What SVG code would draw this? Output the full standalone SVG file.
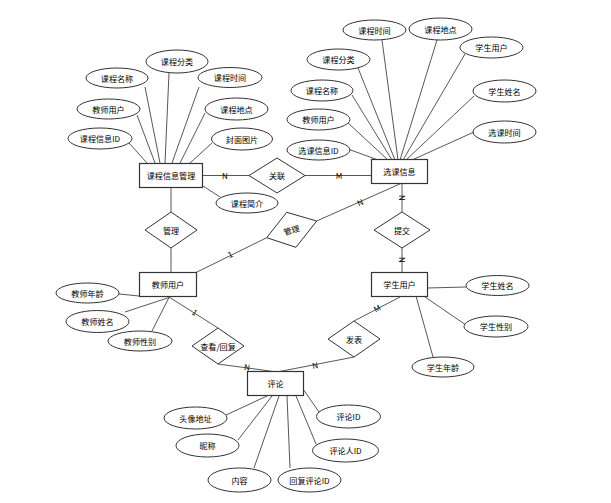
<svg xmlns="http://www.w3.org/2000/svg" width="611" height="503" viewBox="0 0 611 503">
<style>
.bg{fill:#ffffff}
.ent{fill:#ffffff;stroke:#333333;stroke-width:1.2}
.rel{fill:#ffffff;stroke:#333333;stroke-width:1}
.att{fill:#ffffff;stroke:#333333;stroke-width:1}
.ln{stroke:#444444;stroke-width:0.9;fill:none}
text{font-family:"Noto Sans CJK SC","Noto Sans",sans-serif;font-size:8.1px;fill:#000000;text-anchor:middle;dominant-baseline:central}
.lb{font-size:8.1px}
</style>
<rect class="bg" x="0" y="0" width="611" height="503"/>
<g id="connectors">
<line class="ln" x1="203" y1="175.5" x2="249" y2="175.5"/>
<line class="ln" x1="305" y1="175.5" x2="371" y2="175.5"/>
<line class="ln" x1="171" y1="187" x2="171" y2="212"/>
<line class="ln" x1="171" y1="248" x2="171" y2="272"/>
<line class="ln" x1="195" y1="273" x2="266.7" y2="237.7"/>
<line class="ln" x1="316.7" y1="221" x2="402" y2="183"/>
<line class="ln" x1="402" y1="183" x2="402" y2="212"/>
<line class="ln" x1="402" y1="248" x2="402" y2="272"/>
<line class="ln" x1="169" y1="297" x2="218" y2="328"/>
<line class="ln" x1="218" y1="364" x2="277" y2="372"/>
<line class="ln" x1="400" y1="297" x2="354" y2="321"/>
<line class="ln" x1="354" y1="357" x2="277" y2="372"/>
<line class="ln" x1="129" y1="143" x2="147" y2="163"/>
<line class="ln" x1="137" y1="115" x2="155" y2="163"/>
<line class="ln" x1="145" y1="87" x2="160" y2="163"/>
<line class="ln" x1="169" y1="73" x2="165" y2="163"/>
<line class="ln" x1="199" y1="87" x2="172" y2="163"/>
<line class="ln" x1="205" y1="113" x2="180" y2="163"/>
<line class="ln" x1="212" y1="143" x2="190" y2="163"/>
<line class="ln" x1="203" y1="186" x2="220" y2="197"/>
<line class="ln" x1="348" y1="149" x2="378" y2="160"/>
<line class="ln" x1="347" y1="122" x2="388" y2="160"/>
<line class="ln" x1="352" y1="95" x2="392" y2="160"/>
<line class="ln" x1="358" y1="68" x2="395" y2="160"/>
<line class="ln" x1="382" y1="40" x2="398" y2="160"/>
<line class="ln" x1="437" y1="40" x2="400" y2="160"/>
<line class="ln" x1="465" y1="54" x2="403" y2="160"/>
<line class="ln" x1="474" y1="96" x2="406" y2="160"/>
<line class="ln" x1="474" y1="132" x2="412" y2="160"/>
<line class="ln" x1="119" y1="294" x2="139" y2="296"/>
<line class="ln" x1="125" y1="312" x2="169" y2="297.5"/>
<line class="ln" x1="152" y1="331" x2="169" y2="297.5"/>
<line class="ln" x1="427" y1="288" x2="466" y2="287"/>
<line class="ln" x1="425" y1="297" x2="466" y2="325"/>
<line class="ln" x1="416" y1="296" x2="433" y2="357"/>
<line class="ln" x1="267" y1="396" x2="226" y2="415"/>
<line class="ln" x1="272" y1="396" x2="238" y2="440"/>
<line class="ln" x1="279" y1="396" x2="254" y2="468"/>
<line class="ln" x1="287" y1="396" x2="290" y2="468"/>
<line class="ln" x1="296" y1="396" x2="316" y2="444"/>
<line class="ln" x1="303" y1="389" x2="319" y2="412"/>
<text class="lb" x="225" y="175">N</text>
<text class="lb" x="339" y="175">M</text>
<text class="lb" transform="translate(230,254) rotate(-26)" x="0" y="0">1</text>
<text class="lb" transform="translate(360,202) rotate(-24)" x="0" y="0">N</text>
<text class="lb" transform="translate(402,198) rotate(90)" x="0" y="0">N</text>
<text class="lb" transform="translate(402,260) rotate(90)" x="0" y="0">N</text>
<text class="lb" transform="translate(195,312) rotate(32)" x="0" y="0">1</text>
<text class="lb" transform="translate(247,367) rotate(7)" x="0" y="0">N</text>
<text class="lb" transform="translate(377,308) rotate(-28)" x="0" y="0">M</text>
<text class="lb" transform="translate(315,365) rotate(-10)" x="0" y="0">N</text>
</g>
<g id="kcxxgl"><rect class="ent" x="139.5" y="163.5" width="63" height="24"/><text x="171" y="175.5">课程信息管理</text></g>
<g id="xkxx"><rect class="ent" x="371.5" y="159.5" width="56" height="24"/><text x="399.5" y="171.5">选课信息</text></g>
<g id="jsyh"><rect class="ent" x="139.5" y="272.5" width="57" height="24"/><text x="168" y="284.5">教师用户</text></g>
<g id="xsyh"><rect class="ent" x="371.5" y="272.5" width="56" height="24"/><text x="399.5" y="284.5">学生用户</text></g>
<g id="pl"><rect class="ent" x="247.5" y="371.5" width="56" height="24"/><text x="275.5" y="383.5">评论</text></g>
<g id="r_guanlian"><polygon class="rel" points="249,175.5 277,158 305,175.5 277,193"/><text x="277" y="175.5">关联</text></g>
<g id="r_guanli1"><polygon class="rel" points="145,230 171,212 197,230 171,248"/><text x="171" y="230">管理</text></g>
<g id="r_guanli2"><polygon class="rel" points="266.7,237.7 286.7,212.3 316.7,221 296,247.3"/><text transform="translate(291.5,229.8) rotate(-17)" x="0" y="0">管理</text></g>
<g id="r_tijiao"><polygon class="rel" points="374,230 402,212 430,230 402,248"/><text x="402" y="230">提交</text></g>
<g id="r_chakan"><polygon class="rel" points="192,346 218,328 244,346 218,364"/><text x="218" y="346">查看/回复</text></g>
<g id="r_fabiao"><polygon class="rel" points="328,339 354,321 380,339 354,357"/><text x="354" y="339">发表</text></g>
<g id="a_kc_fl"><ellipse class="att" cx="177" cy="61.5" rx="31" ry="11.5"/><text x="177" y="61.5">课程分类</text></g>
<g id="a_kc_mc"><ellipse class="att" cx="117" cy="78" rx="31" ry="10"/><text x="117" y="78">课程名称</text></g>
<g id="a_kc_sj"><ellipse class="att" cx="230" cy="77.5" rx="32" ry="10"/><text x="230" y="77.5">课程时间</text></g>
<g id="a_kc_js"><ellipse class="att" cx="108.5" cy="109" rx="31.5" ry="10"/><text x="108.5" y="109">教师用户</text></g>
<g id="a_kc_dd"><ellipse class="att" cx="236.5" cy="109" rx="31.5" ry="11"/><text x="236.5" y="109">课程地点</text></g>
<g id="a_kc_id"><ellipse class="att" cx="100" cy="138.5" rx="32" ry="10.5"/><text x="100" y="138.5">课程信息ID</text></g>
<g id="a_kc_fm"><ellipse class="att" cx="242" cy="139" rx="30.5" ry="11"/><text x="242" y="139">封面图片</text></g>
<g id="a_kc_jj"><ellipse class="att" cx="247" cy="203" rx="31" ry="10"/><text x="247" y="203">课程简介</text></g>
<g id="a_xk_sj"><ellipse class="att" cx="374.5" cy="30" rx="31.5" ry="10"/><text x="374.5" y="30">课程时间</text></g>
<g id="a_xk_dd"><ellipse class="att" cx="440.5" cy="29" rx="31.5" ry="11"/><text x="440.5" y="29">课程地点</text></g>
<g id="a_xk_xs"><ellipse class="att" cx="491.5" cy="47.5" rx="31.5" ry="10.5"/><text x="491.5" y="47.5">学生用户</text></g>
<g id="a_xk_fl"><ellipse class="att" cx="338.5" cy="59.5" rx="31.5" ry="10.5"/><text x="338.5" y="59.5">课程分类</text></g>
<g id="a_xk_xm"><ellipse class="att" cx="504.5" cy="91" rx="31.5" ry="11"/><text x="504.5" y="91">学生姓名</text></g>
<g id="a_xk_mc"><ellipse class="att" cx="322" cy="90.5" rx="31" ry="10.5"/><text x="322" y="90.5">课程名称</text></g>
<g id="a_xk_js"><ellipse class="att" cx="318.5" cy="119.5" rx="31.5" ry="10.5"/><text x="318.5" y="119.5">教师用户</text></g>
<g id="a_xk_xksj"><ellipse class="att" cx="504.5" cy="132" rx="31.5" ry="11"/><text x="504.5" y="132">选课时间</text></g>
<g id="a_xk_id"><ellipse class="att" cx="318.5" cy="150" rx="31.5" ry="10"/><text x="318.5" y="150">选课信息ID</text></g>
<g id="a_js_nl"><ellipse class="att" cx="87.5" cy="293" rx="31.5" ry="10"/><text x="87.5" y="293">教师年龄</text></g>
<g id="a_js_xm"><ellipse class="att" cx="97.5" cy="321.5" rx="31.5" ry="11"/><text x="97.5" y="321.5">教师姓名</text></g>
<g id="a_js_xb"><ellipse class="att" cx="140" cy="341" rx="32" ry="10"/><text x="140" y="341">教师性别</text></g>
<g id="a_xs_xm"><ellipse class="att" cx="497.5" cy="285.5" rx="31.5" ry="10"/><text x="497.5" y="285.5">学生姓名</text></g>
<g id="a_xs_xb"><ellipse class="att" cx="496" cy="326.5" rx="32" ry="10.5"/><text x="496" y="326.5">学生性别</text></g>
<g id="a_xs_nl"><ellipse class="att" cx="443" cy="367" rx="31" ry="10"/><text x="443" y="367">学生年龄</text></g>
<g id="a_pl_tx"><ellipse class="att" cx="195.5" cy="418" rx="31.5" ry="11"/><text x="195.5" y="418">头像地址</text></g>
<g id="a_pl_nc"><ellipse class="att" cx="207.5" cy="445.5" rx="31.5" ry="11.5"/><text x="207.5" y="445.5">昵称</text></g>
<g id="a_pl_nr"><ellipse class="att" cx="239.5" cy="480" rx="31.5" ry="12"/><text x="239.5" y="480">内容</text></g>
<g id="a_pl_hf"><ellipse class="att" cx="309.5" cy="480" rx="31.5" ry="12"/><text x="309.5" y="480">回复评论ID</text></g>
<g id="a_pl_id"><ellipse class="att" cx="348.5" cy="416.5" rx="32" ry="11.5"/><text x="348.5" y="416.5">评论ID</text></g>
<g id="a_pl_rid"><ellipse class="att" cx="345.5" cy="450.5" rx="33" ry="11.5"/><text x="345.5" y="450.5">评论人ID</text></g>
</svg>
